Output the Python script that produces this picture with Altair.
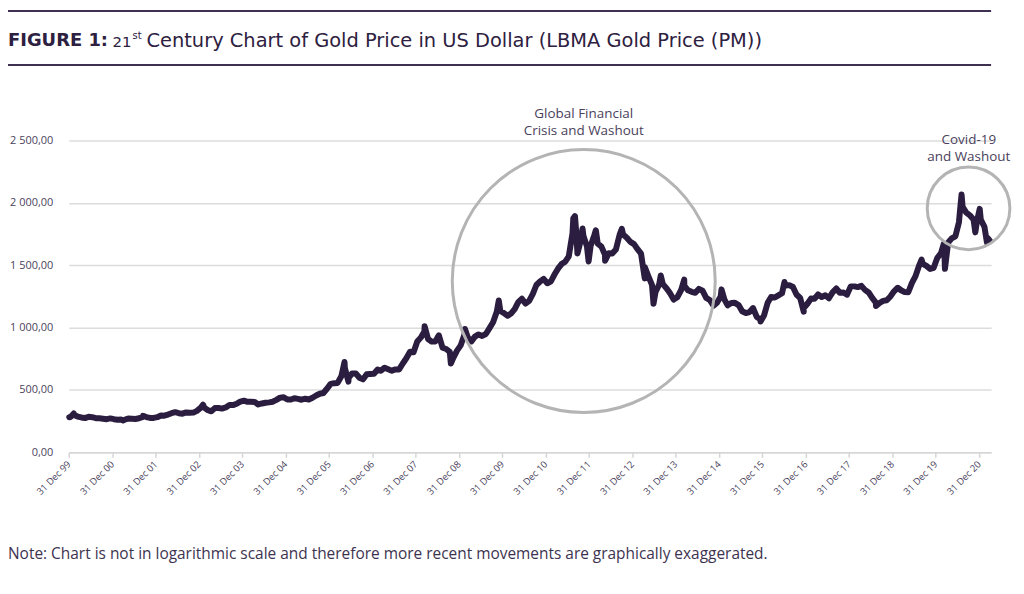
import altair as alt
import pandas as pd

# Monthly LBMA PM gold price (USD/oz), one list per year
p2000 = [284, 300, 287, 280, 275, 285, 282, 274, 273, 270, 266, 272]
p2001 = [266, 262, 263, 261, 272, 270, 268, 273, 284, 283, 276, 276]
p2002 = [282, 296, 294, 303, 314, 322, 314, 310, 320, 317, 319, 333]
p2003 = [357, 359, 340, 329, 355, 356, 351, 360, 379, 379, 390, 407]
p2004 = [414, 405, 406, 404, 384, 392, 398, 401, 406, 421, 439, 442]
p2005 = [424, 424, 434, 429, 422, 430, 424, 438, 456, 470, 476, 510]
p2006 = [549, 555, 557, 610, 676, 596, 633, 632, 598, 585, 627, 629]
p2007 = [631, 665, 655, 679, 667, 655, 665, 665, 713, 754, 806, 803]
p2008 = [889, 922, 968, 909, 888, 889, 939, 839, 829, 806, 760, 816]
p2009 = [858, 943, 924, 890, 928, 946, 934, 949, 996, 1043, 1127, 1134]
p2010 = [1117, 1095, 1113, 1149, 1205, 1232, 1193, 1215, 1271, 1342, 1370, 1391]
p2011 = [1356, 1372, 1424, 1473, 1510, 1529, 1572, 1756, 1772, 1665, 1738, 1652]
p2012 = [1656, 1742, 1673, 1650, 1585, 1596, 1594, 1626, 1744, 1747, 1721, 1688]
p2013 = [1670, 1627, 1593, 1487, 1414, 1343, 1286, 1347, 1349, 1316, 1275, 1225]
p2014 = [1244, 1300, 1336, 1299, 1287, 1279, 1311, 1296, 1239, 1222, 1176, 1200]
p2015 = [1250, 1227, 1179, 1198, 1199, 1181, 1131, 1117, 1125, 1157, 1086, 1068]
p2016 = [1097, 1200, 1246, 1242, 1259, 1276, 1337, 1341, 1326, 1266, 1238, 1157]
p2017 = [1192, 1234, 1231, 1266, 1246, 1260, 1236, 1283, 1314, 1280, 1282, 1265]
p2018 = [1331, 1331, 1325, 1335, 1303, 1282, 1238, 1201, 1198, 1215, 1220, 1250]
p2019 = [1291, 1320, 1300, 1285, 1284, 1359, 1413, 1500, 1511, 1495, 1471, 1480]
p2020 = [1560, 1597, 1591, 1683, 1716, 1732, 1846, 1968, 1922, 1901, 1866, 1858]
p2021 = [1867, 1808, 1718]

years = {2000: p2000, 2001: p2001, 2002: p2002, 2003: p2003, 2004: p2004,
         2005: p2005, 2006: p2006, 2007: p2007, 2008: p2008, 2009: p2009,
         2010: p2010, 2011: p2011, 2012: p2012, 2013: p2013, 2014: p2014,
         2015: p2015, 2016: p2016, 2017: p2017, 2018: p2018, 2019: p2019,
         2020: p2020, 2021: p2021}

# Daily extremes visible as spikes in the chart
spike_dates = ["2000-01-04", "2000-02-11", "2001-04-02", "2001-09-17", "2003-02-05",
               "2006-05-12", "2006-06-14", "2008-03-17", "2008-10-24", "2009-02-20",
               "2009-12-02", "2011-08-22", "2011-09-05", "2011-09-26", "2011-11-08",
               "2011-12-29", "2012-02-28", "2012-05-16", "2012-10-04", "2013-04-15",
               "2013-06-28", "2013-08-28", "2014-03-14", "2015-01-22", "2015-12-17",
               "2016-07-06", "2016-12-15", "2018-08-16", "2019-09-04", "2020-03-09",
               "2020-03-19", "2020-08-06", "2020-11-30", "2021-01-06", "2021-03-08",
               "2021-03-31"]
spike_values = [282, 312, 256, 293, 382,
                725, 567, 1011, 713, 990,
                1218, 1877, 1895, 1595, 1795,
                1531, 1781, 1537, 1792, 1395,
                1192, 1419, 1385, 1307, 1049,
                1366, 1128, 1174, 1546, 1672,
                1472, 2067, 1764, 1953, 1683,
                1700]

y_ticks = [0, 500, 1000, 1500, 2000, 2500]
x_tick_years = list(range(1999, 2021))

# Annotations
circle_dates = ["2011-11-18", "2020-10-04"]
circle_prices = [1374, 1957]
circle_sizes = [264 ** 2, 83 ** 2]

note_lines = ["Global Financial", "Crisis and Washout", "Covid-19", "and Washout"]
note_dates = ["2011-11-18", "2011-11-18", "2020-10-06", "2020-10-06"]
note_prices = [2716, 2580, 2508, 2372]

title_bold = "FIGURE 1:"
title_num = "21"
title_sup = "st"
title_rest = "Century Chart of Gold Price in US Dollar (LBMA Gold Price (PM))"
footnote = "Note: Chart is not in logarithmic scale and therefore more recent movements are graphically exaggerated."

# ---- build tables ----
rows = []
for yr, vals in years.items():
    for m, v in enumerate(vals):
        rows.append((pd.Timestamp(year=yr, month=m + 1, day=15), v))
for d, v in zip(spike_dates, spike_values):
    rows.append((pd.Timestamp(d), v))
df = pd.DataFrame(rows, columns=["date", "price"]).sort_values("date").reset_index(drop=True)

circ = pd.DataFrame({"date": pd.to_datetime(circle_dates), "price": circle_prices, "size": circle_sizes})
notes = pd.DataFrame({"date": pd.to_datetime(note_dates), "price": note_prices, "text": note_lines})
one = pd.DataFrame({"k": [0]})

W, H = 926, 313
LINE = "#2b1d3f"
TXT = "#4a3f5c"
FONT = "Open Sans"
TFONT = "DejaVu Sans"

x_scale = alt.Scale(domain=[alt.DateTime(year=1999, month=12, date=31),
                            alt.DateTime(year=2021, month=4, date=12)], nice=False)
y_scale = alt.Scale(domain=[0, 2500], nice=False)

x_axis = alt.Axis(values=[alt.DateTime(year=y, month=12, date=31) for y in x_tick_years],
                  labelExpr="timeFormat(datum.value, '%d %b %y')",
                  labelAngle=-45, labelAlign="right", labelBaseline="middle",
                  labelFontSize=9.5, labelColor=TXT, labelFont=FONT, labelOverlap=False,
                  labelPadding=5, grid=False, tickSize=5, tickColor="#d6d6d6", tickWidth=1.5,
                  domainColor="#d6d6d6", domainWidth=1.5, title=None)
y_axis = alt.Axis(values=y_ticks,
                  labelExpr="replace(replace(format(datum.value, ',.2f'), ',', ' '), '.', ',')",
                  labelFontSize=11, labelColor=TXT, labelFont=FONT, labelPadding=16,
                  ticks=False, domain=False, grid=True, gridColor="#dcdcdc", gridWidth=1.5,
                  title=None)

line = alt.Chart(df).mark_line(color=LINE, strokeWidth=6, strokeJoin="round", strokeCap="round").encode(
    x=alt.X("date:T", scale=x_scale, axis=x_axis),
    y=alt.Y("price:Q", scale=y_scale, axis=y_axis),
)

circles = alt.Chart(circ).mark_point(shape="circle", filled=False, stroke="#b4b4b4",
                                     strokeWidth=3, opacity=1).encode(
    x=alt.X("date:T", scale=x_scale),
    y=alt.Y("price:Q", scale=y_scale),
    size=alt.Size("size:Q", scale=None, legend=None),
)

ann = alt.Chart(notes).mark_text(font=FONT, fontSize=13.5, color=TXT, align="center",
                                 baseline="middle").encode(
    x=alt.X("date:T", scale=x_scale),
    y=alt.Y("price:Q", scale=y_scale),
    text="text:N",
)

rule_top = alt.Chart(one).mark_rule(color="#3d3050", strokeWidth=2).encode(
    x=alt.value(-61), x2=alt.value(W), y=alt.value(-130))
rule_bot = alt.Chart(one).mark_rule(color="#3d3050", strokeWidth=2).encode(
    x=alt.value(-61), x2=alt.value(W), y=alt.value(-76))

t1 = alt.Chart(one).mark_text(text=title_bold, font=TFONT, fontSize=18, fontWeight="bold",
                              color="#2d2040", align="left", baseline="middle").encode(
    x=alt.value(-61), y=alt.value(-100))
t2 = alt.Chart(one).mark_text(text=title_num, font=TFONT, fontSize=15, color="#2d2040",
                              align="left", baseline="middle").encode(
    x=alt.value(44), y=alt.value(-99))
t3 = alt.Chart(one).mark_text(text=title_sup, font=TFONT, fontSize=10, color="#2d2040",
                              align="left", baseline="middle").encode(
    x=alt.value(64), y=alt.value(-105))
t4 = alt.Chart(one).mark_text(text=title_rest, font=TFONT, fontSize=19.5, color="#2d2040",
                              align="left", baseline="middle").encode(
    x=alt.value(78), y=alt.value(-100))
foot = alt.Chart(one).mark_text(text=footnote, font=FONT, fontSize=15.5, color="#3d3350",
                                align="left", baseline="middle").encode(
    x=alt.value(-61), y=alt.value(415))

chart = alt.layer(line, circles, ann, rule_top, rule_bot, t1, t2, t3, t4, foot).properties(
    width=W, height=H,
    padding={"left": 61, "top": 132, "right": 25, "bottom": 120},
    autosize=alt.AutoSizeParams(type="none"),
).configure_view(strokeWidth=0)

chart.save("out.html", embed_options={"renderer": "svg", "actions": False})
